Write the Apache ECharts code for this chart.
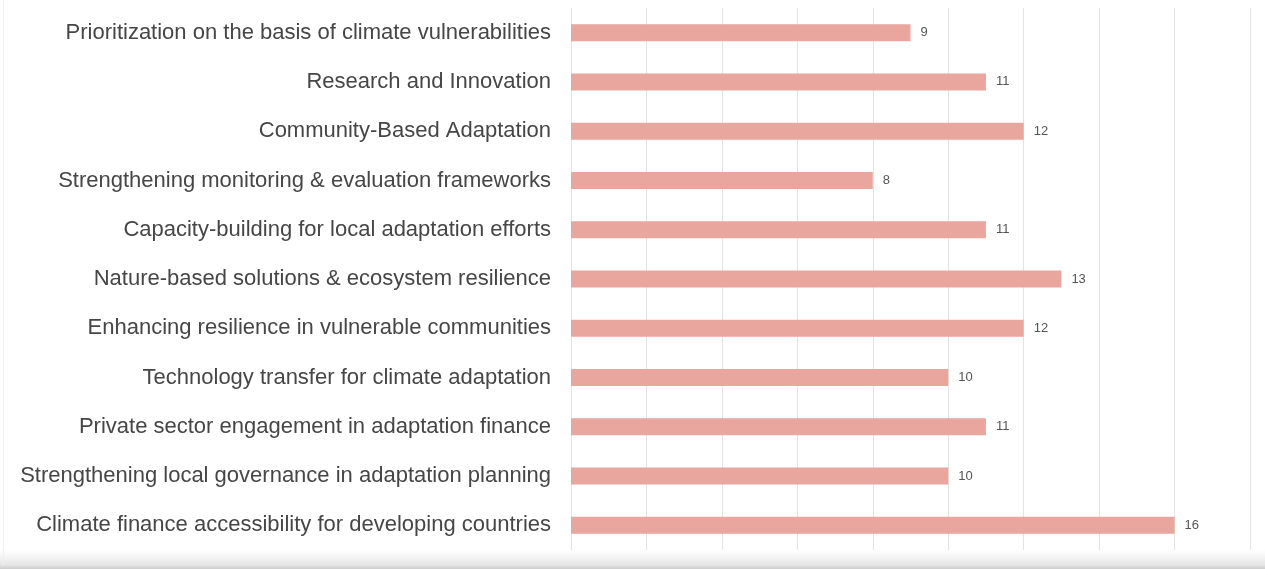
<!DOCTYPE html>
<html><head><meta charset="utf-8">
<script src="https://cdn.jsdelivr.net/npm/echarts@6/dist/echarts.min.js"></script>
<style>html,body{margin:0;padding:0;background:#fff}#c{width:1265px;height:569px}</style>
</head><body><div id="c"></div>
<script>
const categories = [
  "Prioritization on the basis of climate vulnerabilities",
  "Research and Innovation",
  "Community-Based Adaptation",
  "Strengthening monitoring & evaluation frameworks",
  "Capacity-building for local adaptation efforts",
  "Nature-based solutions & ecosystem resilience",
  "Enhancing resilience in vulnerable communities",
  "Technology transfer for climate adaptation",
  "Private sector engagement in adaptation finance",
  "Strengthening local governance in adaptation planning",
  "Climate finance accessibility for developing countries"
];
const values = [9, 11, 12, 8, 11, 13, 12, 10, 11, 10, 16];

const chart = echarts.init(document.getElementById('c'));
chart.setOption({
  animation: false,
  backgroundColor: '#fff',
  grid: { left: 571, right: 15, top: 8, bottom: 19, containLabel: false },
  xAxis: {
    type: 'value', min: 0, max: 18, interval: 2,
    axisLabel: { show: false },
    axisLine: { show: false }, axisTick: { show: false },
    splitLine: { show: true, lineStyle: { color: '#e3e3e3', width: 1 } }
  },
  yAxis: {
    type: 'category', data: categories, inverse: true,
    axisLine: { show: false }, axisTick: { show: false },
    axisLabel: { fontFamily: 'Liberation Sans, Arial, sans-serif', fontSize: 22, color: '#464646', margin: 20, padding: [3, 0, 0, 0] }
  },
  series: [{
    type: 'bar', data: values, barWidth: 17,
    itemStyle: { color: '#E8A69F' },
    label: { show: true, position: 'right', distance: 10, fontFamily: 'Liberation Sans, Arial, sans-serif', fontSize: 13, color: '#555' }
  }],
  graphic: [{
    type: 'rect', left: 0, top: 550, shape: { width: 1265, height: 19 },
    style: { fill: new echarts.graphic.LinearGradient(0, 0, 0, 1, [{offset: 0, color: 'rgba(235,235,235,0)'}, {offset: 0.8, color: 'rgba(228,228,228,1)'}, {offset: 1, color: 'rgba(205,205,205,1)'}]) },
    silent: true
  }, {
    type: 'rect', left: 3, top: 0, shape: { width: 1, height: 565 },
    style: { fill: '#f0f0f0' }, silent: true
  }]
});
</script></body></html>
